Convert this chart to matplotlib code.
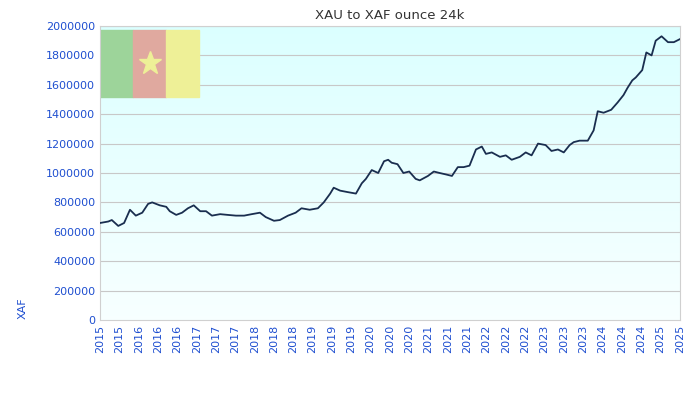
import matplotlib
matplotlib.use("Agg")
import matplotlib.pyplot as plt
import numpy as np
from matplotlib.patches import Rectangle

years = [2015.65,2015.79,2015.85,2015.96,2016.06,2016.16,2016.26,2016.37,2016.47,2016.54,2016.67,2016.78,2016.84,2016.95,
         2017.05,2017.15,2017.25,2017.36,2017.46,2017.56,2017.70,2017.83,2017.97,2018.11,2018.24,2018.38,2018.48,2018.62,
         2018.72,2018.86,2018.99,2019.09,2019.23,2019.37,2019.47,2019.58,2019.64,2019.75,2019.88,2020.02,2020.12,2020.19,
         2020.29,2020.40,2020.50,2020.57,2020.63,2020.73,2020.83,2020.93,2021.04,2021.11,2021.25,2021.35,2021.45,2021.56,
         2021.66,2021.76,2021.86,2021.96,2022.07,2022.17,2022.24,2022.34,2022.48,2022.58,2022.68,2022.82,2022.92,2023.02,
         2023.13,2023.26,2023.36,2023.47,2023.57,2023.67,2023.74,2023.84,2023.98,2024.08,2024.15,2024.25,2024.38,2024.49,
         2024.59,2024.66,2024.74,2024.80,2024.91,2024.98,2025.07,2025.14,2025.24,2025.35,2025.45,2025.55]
values_k = [660,670,680,640,660,750,710,730,790,800,780,770,740,715,730,760,780,740,740,710,720,715,710,710,720,730,700,675,
            680,710,730,760,750,760,800,860,900,880,870,860,930,960,1020,1000,1080,1090,1070,1060,1000,1010,960,950,980,1010,
            1000,990,980,1040,1040,1050,1160,1180,1130,1140,1110,1120,1090,1110,1140,1120,1200,1190,1150,1160,1140,1190,1210,
            1220,1220,1290,1420,1410,1430,1480,1530,1580,1630,1650,1700,1820,1800,1900,1930,1890,1890,1910]
tick_labels = ["2015","2015","2016","2016","2016","2017","2017","2017","2018","2018","2018","2019","2019","2019","2020",
               "2020","2020","2021","2021","2021","2022","2022","2022","2023","2023","2023","2024","2024","2024","2025","2025"]

values = np.array(values_k) * 1000
x0, x1 = years[0], years[-1]

fig = plt.figure(figsize=(7, 4), dpi=100)
ax = fig.add_axes([0.143, 0.2, 0.828, 0.735])
ax.set_xlim(x0, x1)
ax.set_ylim(0, 2000000)

grad = np.linspace(1, 0, 256).reshape(-1, 1)
top = np.array([0.86, 1.0, 1.0]); bot = np.array([0.97, 1.0, 1.0])
img = bot + (top - bot) * grad[..., None]
ax.imshow(img, extent=[x0, x1, 0, 2000000], aspect="auto", zorder=0, origin="upper")

ax.set_yticks(np.arange(0, 2000001, 200000))
for y in np.arange(200000, 2000001, 200000):
    ax.axhline(y, color="#c8c8c8", lw=0.8, zorder=1)

# flag
fw = 0.057
for i, c in enumerate(["#9dd49a", "#e0a99f", "#eef097"]):
    ax.add_patch(Rectangle((i * fw, 0.76), fw, 0.226, transform=ax.transAxes, color=c, zorder=2))
ax.plot([1.5 * fw], [0.873], marker="*", markersize=17, color="#eef097", transform=ax.transAxes, zorder=3)

ax.plot(years, values, color="#1a2e4f", lw=1.3, zorder=4)

ticks = np.linspace(x0, x1, len(tick_labels))
ax.set_xticks(ticks)
ax.set_xticklabels(tick_labels, rotation=90)
ax.tick_params(colors="#1f4fd0", labelsize=8, length=0)
ax.set_yticklabels([str(int(v)) for v in np.arange(0, 2000001, 200000)])
for s in ax.spines.values():
    s.set_color("#d0d0d0")
ax.set_title("XAU to XAF ounce 24k", fontsize=9.5, color="#333333", pad=5)
ax.set_ylabel("XAF", color="#1f4fd0", fontsize=8)
ax.yaxis.set_label_coords(-0.125, 0.04)
fig.savefig("out.png")
